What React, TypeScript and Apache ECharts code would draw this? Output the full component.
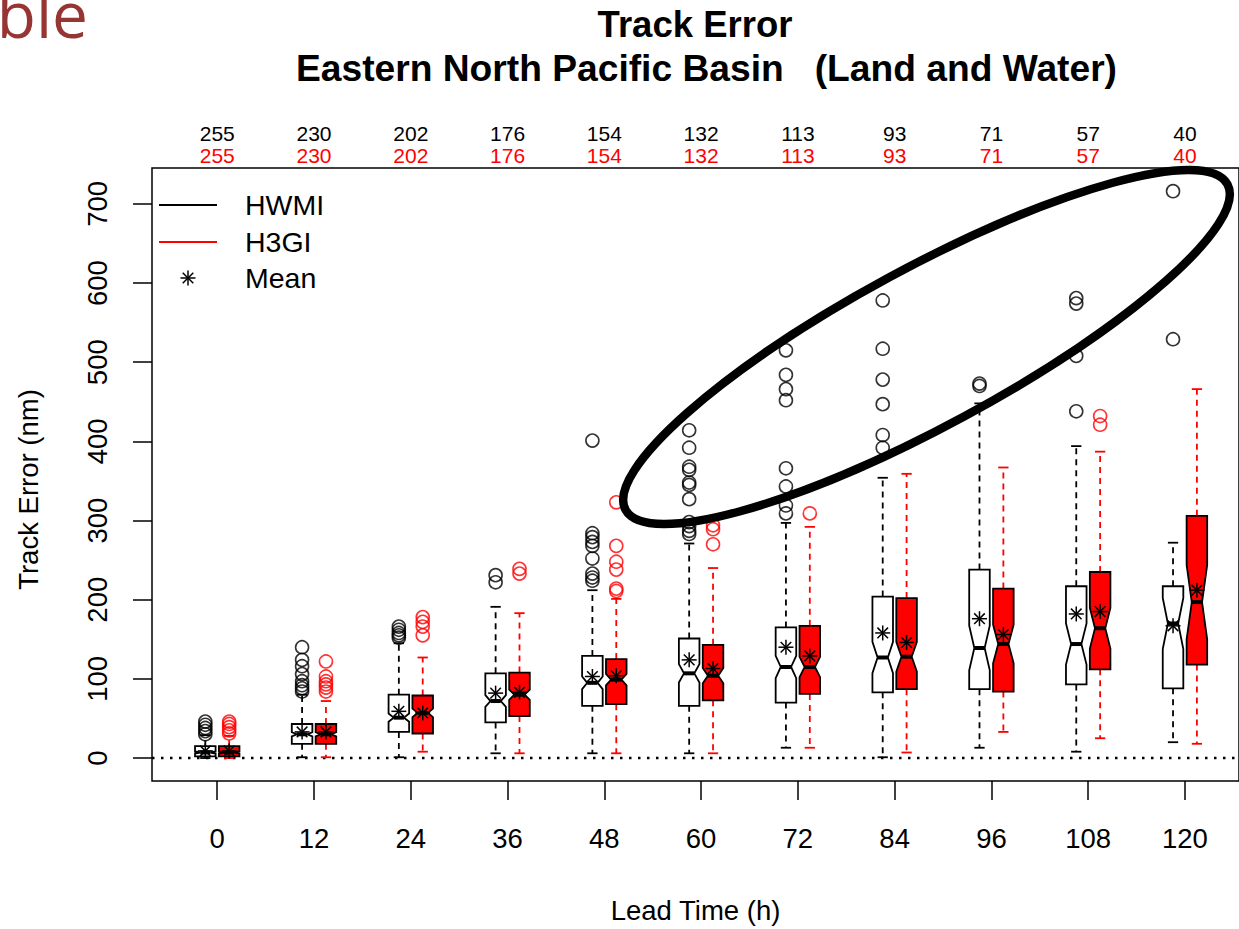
import React, { useEffect, useRef } from 'react';
import * as echarts from 'echarts';

// ---------- data ----------
const leadTimes = [0, 12, 24, 36, 48, 60, 72, 84, 96, 108, 120];
const hwmiCounts = [255, 230, 202, 176, 154, 132, 113, 93, 71, 57, 40];
const h3giCounts = [255, 230, 202, 176, 154, 132, 113, 93, 71, 57, 40];
const yTicks = [0, 100, 200, 300, 400, 500, 600, 700];

const hwmiLow = [0, 1, 1, 6, 6, 6, 13, 1, 13, 8, 20];
const hwmiQ1 = [2, 18, 33, 45, 66, 66, 70, 83, 87, 93, 88];
const hwmiMedian = [7, 30, 51, 72, 95, 107, 115, 127, 139, 144, 170];
const hwmiQ3 = [15, 43, 80, 107, 129, 151, 165, 204, 238, 217, 217];
const hwmiHigh = [29, 80, 145, 191, 212, 271, 297, 354, 448, 394, 272];
const hwmiMean = [9, 33, 59, 82, 103, 124, 140, 158, 176, 182, 167];
const hwmiOutliers = [
  [30, 34, 38, 42, 46],
  [84, 88, 92, 97, 106, 116, 124, 140],
  [152, 155, 158, 162, 166],
  [222, 231],
  [224, 228, 233, 252, 268, 273, 279, 284, 401],
  [283, 287, 293, 298, 327, 345, 348, 364, 368, 392, 414],
  [309, 319, 343, 366, 452, 466, 484, 515],
  [392, 408, 447, 478, 517, 578],
  [470, 473],
  [438, 508, 574, 581],
  [529, 716],
];

const h3giLow = [0, 1, 8, 6, 6, 6, 13, 7, 33, 25, 18];
const h3giQ1 = [2, 18, 31, 53, 68, 73, 81, 87, 84, 112, 118];
const h3giMedian = [7, 30, 57, 80, 99, 104, 115, 128, 144, 164, 197];
const h3giQ3 = [15, 43, 79, 108, 125, 143, 167, 202, 214, 235, 306];
const h3giHigh = [28, 72, 127, 183, 201, 240, 292, 359, 367, 387, 466];
const h3giMean = [9, 33, 57, 83, 104, 113, 129, 146, 156, 185, 212];
const h3giOutliers = [
  [31, 35, 39, 43, 46],
  [84, 89, 93, 97, 103, 122],
  [155, 166, 172, 178],
  [233, 239],
  [211, 214, 238, 248, 268, 323],
  [270, 289, 294],
  [309],
  [],
  [],
  [421, 432],
  [],
];

// ---------- styling constants ----------
const FONT = 'Liberation Sans, Arial, sans-serif';
const X_MIN = -8.09;
const X_MAX = 126.7;
const Y_MIN = -29;
const Y_MAX = 745.3;
const BOX_OFFSET = 1.48;
const BOX_WIDTH = 2.55;

function star(cx: number, cy: number, color: string) {
  const r = 7.5;
  const d = 5.3;
  const st = { stroke: color, lineWidth: 1.5 };
  return [
    { type: 'line', shape: { x1: cx - r, y1: cy, x2: cx + r, y2: cy }, style: st },
    { type: 'line', shape: { x1: cx, y1: cy - r, x2: cx, y2: cy + r }, style: st },
    { type: 'line', shape: { x1: cx - d, y1: cy - d, x2: cx + d, y2: cy + d }, style: st },
    { type: 'line', shape: { x1: cx - d, y1: cy + d, x2: cx + d, y2: cy - d }, style: st },
  ];
}

function buildBoxData(low: number[], q1: number[], med: number[], q3: number[], high: number[], mean: number[], counts: number[]) {
  return leadTimes.map((t, i) => [t, low[i], q1[i], med[i], q3[i], high[i], mean[i], counts[i]]);
}

function buildOutliers(out: number[][], offset: number) {
  const res: number[][] = [];
  leadTimes.forEach((t, i) => out[i].forEach((v) => res.push([t + offset, v])));
  return res;
}

function makeRenderItem(offset: number, fill: string, wColor: string) {
  return (params: any, api: any) => {
    const t = api.value(0) + offset;
    const low = api.value(1);
    const q1 = api.value(2);
    const med = api.value(3);
    const q3 = api.value(4);
    const high = api.value(5);
    const mean = api.value(6);
    const n = api.value(7);
    const y = (v: number) => api.coord([t, v])[1];
    const cx = api.coord([t, 0])[0];
    const w = api.size([BOX_WIDTH, 0])[0];
    const hw = w / 2;
    const nw = w / 4;
    const conf = (1.58 * (q3 - q1)) / Math.sqrt(n);
    const yq1 = y(q1), yq3 = y(q3), ym = y(med);
    const yc1 = y(med - conf), yc2 = y(med + conf);
    const ylo = y(low), yhi = y(high);
    const dash = { stroke: wColor, lineWidth: 1.8, lineDash: [6, 5] };
    const solid = { stroke: wColor, lineWidth: 1.8 };
    const children: any[] = [
      { type: 'line', shape: { x1: cx, y1: yq1, x2: cx, y2: ylo }, style: dash },
      { type: 'line', shape: { x1: cx, y1: yq3, x2: cx, y2: yhi }, style: dash },
      { type: 'line', shape: { x1: cx - nw, y1: ylo, x2: cx + nw, y2: ylo }, style: solid },
      { type: 'line', shape: { x1: cx - nw, y1: yhi, x2: cx + nw, y2: yhi }, style: solid },
      {
        type: 'polygon',
        shape: {
          points: [
            [cx - hw, yq1], [cx + hw, yq1], [cx + hw, yc1], [cx + nw, ym], [cx + hw, yc2],
            [cx + hw, yq3], [cx - hw, yq3], [cx - hw, yc2], [cx - nw, ym], [cx - hw, yc1],
          ],
        },
        style: { fill, stroke: '#000', lineWidth: 1.8 },
      },
      { type: 'line', shape: { x1: cx - nw, y1: ym, x2: cx + nw, y2: ym }, style: { stroke: '#000', lineWidth: 4 } },
      ...star(cx, y(mean), '#000'),
    ];
    return { type: 'group', children };
  };
}

const tickLine = { show: true, lineStyle: { color: '#000', width: 1.5 } };

const option: any = {
  animation: false,
  backgroundColor: '#fff',
  grid: {
    left: 152,
    top: 168,
    width: 1088,
    height: 615,
    show: true,
    borderColor: '#000',
    borderWidth: 1.5,
    backgroundColor: 'transparent',
  },
  xAxis: [
    {
      type: 'value',
      position: 'bottom',
      min: X_MIN,
      max: X_MAX,
      axisLine: { show: false, onZero: false },
      splitLine: { show: false },
      axisTick: { ...tickLine, length: 19, inside: false, customValues: leadTimes },
      axisLabel: { customValues: leadTimes, fontSize: 27.5, color: '#000', fontFamily: FONT, margin: 43 },
      name: 'Lead Time (h)',
      nameLocation: 'middle',
      nameGap: 115,
      nameTextStyle: { fontSize: 27.5, color: '#000', fontFamily: FONT },
    },
    {
      type: 'value',
      position: 'top',
      min: X_MIN,
      max: X_MAX,
      axisLine: { show: false, onZero: false },
      splitLine: { show: false },
      axisTick: { show: false },
      axisLabel: {
        customValues: leadTimes,
        margin: 2,
        fontFamily: FONT,
        formatter: (v: number) => {
          const i = leadTimes.indexOf(Math.round(v));
          return `{a|${hwmiCounts[i]}}\n{b|${h3giCounts[i]}}`;
        },
        rich: {
          a: { fontSize: 21, color: '#000', lineHeight: 22, fontFamily: FONT },
          b: { fontSize: 21, color: '#ff0000', lineHeight: 22, fontFamily: FONT },
        },
      },
    },
  ],
  yAxis: {
    type: 'value',
    min: Y_MIN,
    max: Y_MAX,
    axisLine: { show: false, onZero: false },
    splitLine: { show: false },
    axisTick: { ...tickLine, length: 19, inside: false, customValues: yTicks },
    axisLabel: { customValues: yTicks, rotate: 90, fontSize: 27.5, color: '#000', fontFamily: FONT, margin: 41 },
    name: 'Track Error (nm)',
    nameLocation: 'middle',
    nameGap: 110,
    nameTextStyle: { fontSize: 27.5, color: '#000', fontFamily: FONT, padding: [0, 30, 0, 0] },
  },
  series: [
    {
      type: 'line',
      data: [[X_MIN, 0], [X_MAX, 0]],
      showSymbol: false,
      symbol: 'none',
      silent: true,
      lineStyle: { color: '#000', width: 2.5, type: [2.5, 6.5] },
      z: 1,
    },
    {
      name: 'HWMI',
      type: 'custom',
      coordinateSystem: 'cartesian2d',
      renderItem: makeRenderItem(-BOX_OFFSET, '#ffffff', '#000000'),
      data: buildBoxData(hwmiLow, hwmiQ1, hwmiMedian, hwmiQ3, hwmiHigh, hwmiMean, hwmiCounts),
      encode: { x: 0, y: [1, 5] },
      silent: true,
      z: 2,
    },
    {
      name: 'H3GI',
      type: 'custom',
      coordinateSystem: 'cartesian2d',
      renderItem: makeRenderItem(BOX_OFFSET, '#ff0000', '#ff0000'),
      data: buildBoxData(h3giLow, h3giQ1, h3giMedian, h3giQ3, h3giHigh, h3giMean, h3giCounts),
      encode: { x: 0, y: [1, 5] },
      silent: true,
      z: 2,
    },
    {
      name: 'HWMI outliers',
      type: 'scatter',
      data: buildOutliers(hwmiOutliers, -BOX_OFFSET),
      symbol: 'circle',
      symbolSize: 13,
      itemStyle: { color: 'rgba(0,0,0,0)', borderColor: '#000', borderWidth: 1.6 },
      silent: true,
      z: 3,
    },
    {
      name: 'H3GI outliers',
      type: 'scatter',
      data: buildOutliers(h3giOutliers, BOX_OFFSET),
      symbol: 'circle',
      symbolSize: 13,
      itemStyle: { color: 'rgba(0,0,0,0)', borderColor: '#ff0000', borderWidth: 1.6 },
      silent: true,
      z: 3,
    },
  ],
  graphic: [
    {
      type: 'text',
      style: { text: 'ble', x: 88, y: 13, align: 'right', verticalAlign: 'middle', fontSize: 64, fontFamily: 'Open Sans, Noto Sans, sans-serif', fill: '#963634' },
    },
    {
      type: 'text',
      style: { text: 'Track Error', x: 695, y: 24, align: 'center', verticalAlign: 'middle', fontSize: 36.5, fontWeight: 'bold', fontFamily: FONT, fill: '#000' },
    },
    {
      type: 'text',
      style: { text: 'Eastern North Pacific Basin', x: 296, y: 68, align: 'left', verticalAlign: 'middle', fontSize: 37.2, fontWeight: 'bold', fontFamily: FONT, fill: '#000' },
    },
    {
      type: 'text',
      style: { text: '(Land and Water)', x: 1117, y: 68, align: 'right', verticalAlign: 'middle', fontSize: 37.2, fontWeight: 'bold', fontFamily: FONT, fill: '#000' },
    },
    // legend
    { type: 'line', shape: { x1: 159, y1: 205, x2: 217, y2: 205 }, style: { stroke: '#000', lineWidth: 2 } },
    { type: 'line', shape: { x1: 159, y1: 242, x2: 217, y2: 242 }, style: { stroke: '#ff0000', lineWidth: 2 } },
    { type: 'group', children: star(188, 278, '#000') },
    { type: 'text', style: { text: 'HWMI', x: 245, y: 205, verticalAlign: 'middle', fontSize: 28.5, fontFamily: FONT, fill: '#000' } },
    { type: 'text', style: { text: 'H3GI', x: 245, y: 242, verticalAlign: 'middle', fontSize: 28.5, fontFamily: FONT, fill: '#000' } },
    { type: 'text', style: { text: 'Mean', x: 245, y: 278, verticalAlign: 'middle', fontSize: 28.5, fontFamily: FONT, fill: '#000' } },
    // highlight ellipse
    {
      type: 'ellipse',
      shape: { cx: 0, cy: 0, rx: 342, ry: 79 },
      x: 926.5,
      y: 347,
      rotation: 0.4957,
      style: { fill: 'none', stroke: '#000', lineWidth: 8.5 },
      z: 100,
    },
  ],
};

export default function App() {
  const ref = useRef<HTMLDivElement>(null);
  useEffect(() => {
    document.body.style.margin = '0';
    const chart = echarts.init(ref.current as HTMLDivElement, null, { renderer: 'svg' });
    chart.setOption(option);
    return () => {
      chart.dispose();
    };
  }, []);
  return <div ref={ref} style={{ width: 1239, height: 929 }} />;
}
